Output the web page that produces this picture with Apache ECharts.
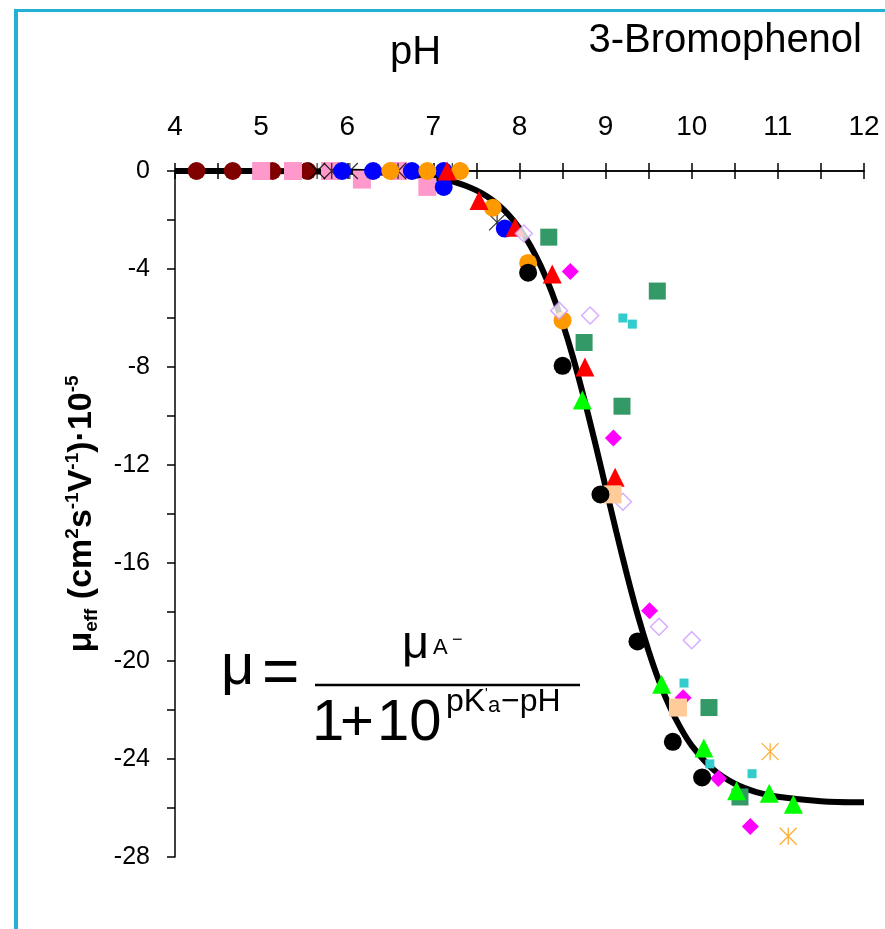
<!DOCTYPE html>
<html>
<head>
<meta charset="utf-8">
<script src="https://cdn.jsdelivr.net/npm/echarts@6/dist/echarts.min.js"></script>
<style>
  html, body { margin: 0; padding: 0; background: #fff; }
  #chart { width: 885px; height: 929px; }
</style>
</head>
<body>
<div id="chart"></div>
<script>
// fitted curve
const curvePH = [4, 5, 6, 6.5, 7, 7.125, 7.25, 7.375, 7.5, 7.625, 7.75, 7.875, 8, 8.125, 8.25, 8.375, 8.5, 8.625, 8.75, 8.875,
  9, 9.125, 9.25, 9.375, 9.5, 9.625, 9.75, 9.875, 10, 10.25, 10.5, 10.75, 11, 11.5, 12]
const curveMu = [0, 0, -0.03, -0.08, -0.26, -0.34, -0.45, -0.6, -0.79, -1.04, -1.37, -1.8, -2.35, -3.04, -3.9, -4.95, -6.2, -7.65, -9.29, -11.05,
  -12.9, -14.74, -16.51, -18.15, -19.6, -20.86, -21.91, -22.76, -23.45, -24.43, -25.01, -25.35, -25.54, -25.72, -25.77]

// measured points, one pair of arrays per marker
const maroonPH = [4.25, 4.67, 5.13, 5.54]
const maroonMu = [0, 0, 0, 0]
const pinkPH = [5.0, 5.37, 5.8, 6.17, 6.59, 6.93]
const pinkMu = [0, 0, 0, -0.35, 0, -0.65]
const starPH = [5.65, 5.82, 6.03, 6.59, 7.22, 7.74]
const starMu = [0, 0, 0, 0, 0, -2.1]
const bluePH = [5.94, 6.3, 6.75, 7.12, 7.12, 7.83]
const blueMu = [0, 0, 0, 0, -0.65, -2.35]
const orangePH = [6.5, 6.93, 7.31, 7.69, 8.1, 8.5]
const orangeMu = [0, 0, 0, -1.5, -3.75, -6.1]
const redPH = [7.16, 7.53, 7.95, 8.38, 8.76, 9.11]
const redMu = [0, -1.2, -2.3, -4.2, -8.0, -12.5]
const lavPH = [8.05, 8.46, 8.82, 9.2, 9.62, 10.0]
const lavMu = [-2.55, -5.7, -5.9, -13.5, -18.6, -19.15]
const seaPH = [8.34, 8.75, 9.19, 9.6, 10.2, 10.56]
const seaMu = [-2.7, -7.0, -9.6, -4.9, -21.9, -25.55]
const magPH = [8.59, 9.09, 9.51, 9.9, 10.31, 10.68]
const magMu = [-4.1, -10.9, -17.95, -21.5, -24.8, -26.75]
const tealPH = [9.2, 9.31, 9.91, 10.21, 10.7]
const tealMu = [-6.0, -6.25, -20.9, -24.2, -24.6]
const blackPH = [8.1, 8.5, 8.94, 9.37, 9.78, 10.12]
const blackMu = [-4.15, -7.95, -13.2, -19.2, -23.3, -24.75]
const greenPH = [8.73, 9.65, 10.14, 10.52, 10.9, 11.18]
const greenMu = [-9.35, -20.95, -23.55, -25.3, -25.4, -25.85]
const peachPH = [9.08, 9.84]
const peachMu = [-13.2, -21.9]
const oStarPH = [10.91, 11.12]
const oStarMu = [-23.7, -27.15]

const FONT = 'Liberation Sans'
const STAR = 'path://M0,0L10,10M10,0L0,10M5,0L5,10'

function zip(xs, ys) {
  return xs.map((x, i) => [x, ys[i]])
}

function pts(xs, ys, symbol, size, color, extra) {
  return Object.assign({
    type: 'scatter',
    data: zip(xs, ys),
    symbol: symbol,
    symbolSize: size,
    itemStyle: { color: color, opacity: 1 },
    silent: true,
    z: 3,
  }, extra || {})
}

const myChart = echarts.init(document.getElementById('chart'))

const xBase = {
  type: 'value',
  position: 'top',
  min: 4,
  max: 12,
  interval: 1,
  splitLine: { show: false },
  axisLine: { onZero: false, lineStyle: { color: '#000', width: 1.5 } },
  axisTick: { show: true, length: 8, lineStyle: { color: '#000', width: 1.5 } },
  minorTick: { show: true, splitNumber: 2, length: 8, lineStyle: { color: '#000', width: 1.5 } },
}

function txt(s, x, y, size) {
  return { type: 'text', x: x, y: y, style: { text: s, fontFamily: FONT, fontSize: size, fill: '#000', verticalAlign: 'middle' } }
}

myChart.setOption({
  animation: false,
  backgroundColor: '#fff',
  title: [
    {
      text: '3-Bromophenol',
      right: 18,
      top: 16,
      textStyle: { fontFamily: FONT, fontSize: 40, fontWeight: 'normal', color: '#000' },
    },
    {
      text: 'pH',
      left: 385,
      top: 28,
      textStyle: { fontFamily: FONT, fontSize: 40, fontWeight: 'normal', color: '#000' },
    },
  ],
  grid: { left: 175, top: 171, right: 21, bottom: 72, outerBoundsMode: 'none' },
  xAxis: [
    Object.assign({}, xBase, {
      axisLabel: { fontFamily: FONT, fontSize: 28, color: '#000', margin: 30 },
    }),
    Object.assign({}, xBase, {
      axisLabel: { show: false },
      axisTick: { show: true, inside: true, length: 8, lineStyle: { color: '#000', width: 1.5 } },
    }),
  ],
  yAxis: {
    type: 'value',
    min: -28,
    max: 0,
    interval: 4,
    splitLine: { show: false },
    axisLine: { onZero: false, lineStyle: { color: '#000', width: 1.5 } },
    axisTick: { show: true, length: 8, lineStyle: { color: '#000', width: 1.5 } },
    minorTick: { show: true, splitNumber: 2, length: 8, lineStyle: { color: '#000', width: 1.5 } },
    axisLabel: { fontFamily: FONT, fontSize: 25, color: '#000', margin: 25 },
    name: '{b|μ}{s|eff}{b| (cm}{p|2}{b|s}{p|-1}{b|V}{p|-1}{b|)·10}{p|-5}',
    nameLocation: 'middle',
    nameRotate: 90,
    nameGap: 74,
    nameTextStyle: {
      rich: {
        b: { fontFamily: FONT, fontSize: 34, fontWeight: 'bold', color: '#000', lineHeight: 38 },
        s: { fontFamily: FONT, fontSize: 19, fontWeight: 'bold', color: '#000', verticalAlign: 'bottom' },
        p: { fontFamily: FONT, fontSize: 19, fontWeight: 'bold', color: '#000', verticalAlign: 'top' },
      },
    },
  },
  graphic: [
    // blue frame
    { type: 'rect', shape: { x: 14, y: 9, width: 871, height: 3 }, style: { fill: '#22b0d4' } },
    { type: 'rect', shape: { x: 14, y: 9, width: 4, height: 920 }, style: { fill: '#22b0d4' } },
    // formula
    txt('μ', 221, 668, 58),
    txt('=', 262, 675, 64),
    { type: 'line', shape: { x1: 315, y1: 685, x2: 580, y2: 685 }, style: { stroke: '#000', lineWidth: 2.5 } },
    txt('μ', 402, 645, 47),
    txt('A', 433, 648, 22),
    txt('−', 452, 640, 18),
    txt('1', 312, 724, 58),
    txt('+', 340, 724, 58),
    txt('10', 377, 724, 58),
    txt('pK', 446, 702, 32),
    txt("'", 485, 694, 14),
    txt('a', 488, 706, 22),
    txt('−pH', 501, 702, 32),
  ],
  series: [
    {
      type: 'line',
      data: zip(curvePH, curveMu),
      smooth: 0.3,
      showSymbol: false,
      silent: true,
      lineStyle: { color: '#000', width: 6 },
      z: 2,
    },
    pts(maroonPH, maroonMu, 'circle', 18, '#800000'),
    pts(pinkPH, pinkMu, 'rect', 18, '#ff99cc'),
    pts(starPH, starMu, STAR, 16, 'rgba(0,0,0,0)', { itemStyle: { color: 'rgba(0,0,0,0)', borderColor: '#000', borderWidth: 1.2 } }),
    pts(bluePH, blueMu, 'circle', 18, '#0000ff'),
    pts(orangePH, orangeMu, 'circle', 18, '#ff9900'),
    pts(redPH, redMu, 'triangle', 19, '#ff0000'),
    pts(lavPH, lavMu, 'diamond', 17, '#fff', { itemStyle: { color: '#fff', borderColor: '#cc99ff', borderWidth: 1.5 } }),
    pts(seaPH, seaMu, 'rect', 17, '#339966'),
    pts(magPH, magMu, 'diamond', 17, '#ff00ff'),
    pts(tealPH, tealMu, 'rect', 9, '#33cccc'),
    pts(peachPH, peachMu, 'rect', 18, '#ffcc99'),
    pts(blackPH, blackMu, 'circle', 18, '#000'),
    pts(greenPH, greenMu, 'triangle', 19, '#00ff00'),
    pts(oStarPH, oStarMu, STAR, 17, 'rgba(0,0,0,0)', { itemStyle: { color: 'rgba(0,0,0,0)', borderColor: '#ff9900', borderWidth: 1.3 } }),
  ],
})
</script>
</body>
</html>
